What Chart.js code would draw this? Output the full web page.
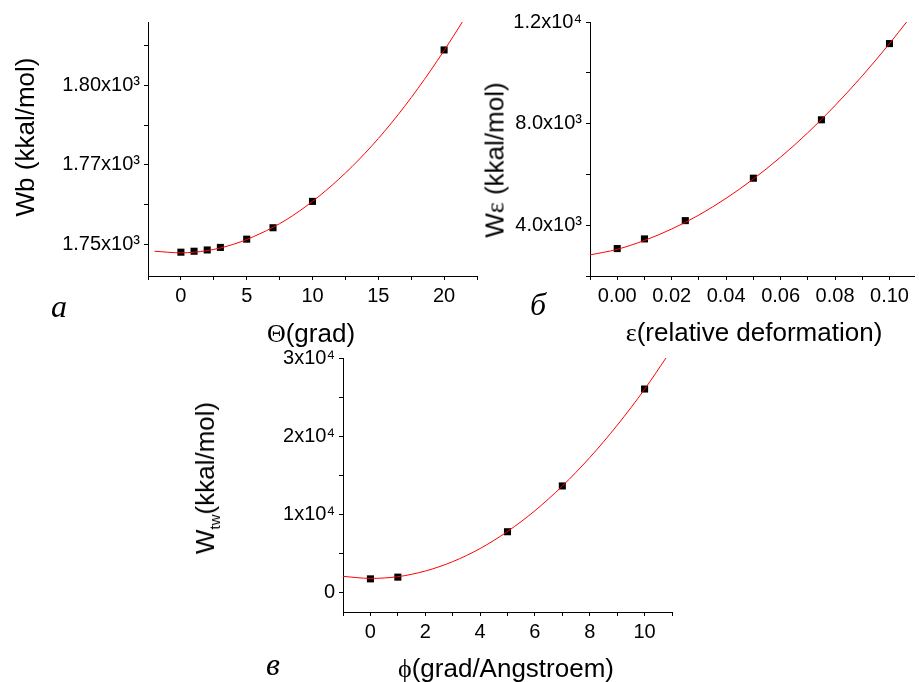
<!DOCTYPE html>
<html lang="en">

<head>
    <meta charset="UTF-8">
    <title>Energy vs deformation</title>
    <script src="https://cdn.jsdelivr.net/npm/chart.js"></script>
    <style>
        body { margin: 0; background: #fff; }
        #page { position: relative; width: 919px; height: 682px; overflow: hidden; }
        canvas { position: absolute; left: 0; top: 0; }
        .txt { position: absolute; font-family: 'Liberation Sans', Arial, sans-serif; font-size: 26px; color: #000; white-space: nowrap; transform: translate(-50%, -50%); line-height: 1; }
        .rot { transform: translate(-50%, -50%) rotate(-90deg); }
        .gr { font-family: 'Liberation Serif', 'Times New Roman', serif; }
        .let { position: absolute; font-family: 'Liberation Serif', 'Times New Roman', serif; font-style: italic; font-size: 32px; line-height: 1; transform: translate(-50%, -50%); }
        sub { font-size: 15px; vertical-align: -6px; }
    </style>
</head>

<body>
    <div id="page">
        <canvas id="ca" width="919" height="682"></canvas>
        <canvas id="cb" width="919" height="682"></canvas>
        <canvas id="cv" width="919" height="682"></canvas>

        <div class="txt rot" style="left:25px; top:137px;">Wb (kkal/mol)</div>
        <div class="txt" style="left:311px; top:333px;"><span class="gr">&Theta;</span>(grad)</div>
        <div class="let" style="left:59px; top:306px;">a</div>

        <div class="txt rot" style="left:495px; top:160px;">W<span class="gr">&epsilon;</span> (kkal/mol)</div>
        <div class="txt" style="left:754px; top:332px;"><span class="gr">&epsilon;</span>(relative deformation)</div>
        <div class="let" style="left:538px; top:304px;">б</div>

        <div class="txt rot" style="left:207px; top:478px;">W<sub>tw</sub>(kkal/mol)</div>
        <div class="txt" style="left:506px; top:668px;"><span class="gr">&#981;</span>(grad/Angstroem)</div>
        <div class="let" style="left:273px; top:664px;">в</div>
    </div>

    <script>
        // panel a : Wb vs theta
        var thetaX = [0, 1, 2, 3, 5, 7, 10, 20]
        var wbY = [1747.5, 1747.8, 1748.2, 1749.0, 1751.6, 1755.2, 1763.5, 1811.2]
        var wbFitX = [-2, 0, 2, 4, 6, 8, 10, 12, 14, 16, 18, 20, 21.4]
        var wbFitY = [1747.8, 1747.3, 1748.0, 1750.0, 1753.3, 1757.7, 1763.5, 1770.5, 1778.7, 1788.2, 1799.0, 1811.0, 1820.1]
        var thetaTicks = [-2.5, 0, 2.5, 5, 7.5, 10, 12.5, 15, 17.5, 20, 22.5]
        var thetaLabels = ['', '0', '', '5', '', '10', '', '15', '', '20', '']
        var wbTicks = [1750, 1762.5, 1775, 1787.5, 1800, 1812.5]
        var wbLabels = ['1.75x10³', '', '1.77x10³', '', '1.80x10³', '']

        // panel b : W eps vs relative deformation
        var epsX = [0, 0.01, 0.025, 0.05, 0.075, 0.1]
        var weY = [3080, 3460, 4180, 5850, 8150, 11150]
        var weFitX = [-0.01, 0, 0.01, 0.02, 0.03, 0.04, 0.05, 0.06, 0.07, 0.08, 0.09, 0.1, 0.1065]
        var weFitY = [2830, 3050, 3400, 3850, 4400, 5060, 5820, 6680, 7640, 8710, 9880, 11150, 12030]
        var epsTicks = [-0.01, 0, 0.01, 0.02, 0.03, 0.04, 0.05, 0.06, 0.07, 0.08, 0.09, 0.1]
        var epsLabels = ['', '0.00', '', '0.02', '', '0.04', '', '0.06', '', '0.08', '', '0.10']
        var weTicks = [2000, 4000, 6000, 8000, 10000, 12000]
        var weLabels = ['', '4.0x10³', '', '8.0x10³', '', '1.2x10⁴']

        // panel v : W tw vs phi
        var phiX = [0, 1, 5, 7, 10]
        var wtY = [1740, 1960, 7770, 13630, 26030]
        var wtFitX = [-1, 0, 1, 2, 3, 4, 5, 6, 7, 8, 9, 10, 10.78]
        var wtFitY = [2060, 1800, 2020, 2740, 3940, 5620, 7800, 10460, 13620, 17260, 21390, 26000, 30000]
        var phiTicks = [-1, 0, 1, 2, 3, 4, 5, 6, 7, 8, 9, 10, 11]
        var phiLabels = ['', '0', '', '2', '', '4', '', '6', '', '8', '', '10', '']
        var wtTicks = [0, 5000, 10000, 15000, 20000, 25000, 30000]
        var wtLabels = ['0', '', '1x10⁴', '', '2x10⁴', '', '3x10⁴']

        var fonte = { family: 'Liberation Sans', size: 20 }

        function pares(xs, ys) {
            return xs.map(function (x, i) { return { x: x, y: ys[i] } })
        }

        function eixo(lado, min, max, ticks, labels, tamanho) {
            return {
                type: 'linear',
                position: lado,
                min: min,
                max: max,
                afterBuildTicks: function (s) { s.ticks = ticks.map(function (v) { return { value: v } }) },
                afterFit: function (s) {
                    if (lado == 'left') s.width = tamanho
                    else s.height = tamanho
                },
                ticks: {
                    callback: function (v, i) { return labels[i] },
                    autoSkip: false, maxRotation: 0, padding: 4,
                    color: '#000', font: fonte
                },
                grid: { drawOnChartArea: false, drawTicks: true, tickLength: 4, color: '#000' },
                border: { display: true, color: '#000', width: 1 }
            }
        }

        function grafico(id, p) {
            new Chart(document.getElementById(id), {
                type: 'scatter',
                data: {
                    datasets: [{
                        data: pares(p.fitX, p.fitY),
                        showLine: true,
                        borderColor: '#ff0000',
                        borderWidth: 1,
                        pointRadius: 0,
                        cubicInterpolationMode: 'monotone'
                    }, {
                        data: pares(p.x, p.y),
                        pointStyle: 'rect',
                        pointRadius: 5,
                        backgroundColor: '#000',
                        borderColor: '#000',
                        borderWidth: 0
                    }]
                },
                options: {
                    responsive: false,
                    animation: false,
                    events: [],
                    layout: { padding: { left: 0, top: p.top, right: 919 - p.right, bottom: 682 - p.bottom - 40 } },
                    plugins: { legend: { display: false }, tooltip: { enabled: false } },
                    scales: {
                        x: eixo('bottom', p.xMin, p.xMax, p.xTicks, p.xLabels, 40),
                        y: eixo('left', p.yMin, p.yMax, p.yTicks, p.yLabels, p.left)
                    }
                }
            })
        }

        grafico('ca', {
            x: thetaX, y: wbY, fitX: wbFitX, fitY: wbFitY,
            xMin: -2.5, xMax: 22.5, xTicks: thetaTicks, xLabels: thetaLabels,
            yMin: 1740, yMax: 1820, yTicks: wbTicks, yLabels: wbLabels,
            left: 148, right: 477, top: 22, bottom: 276
        })
        grafico('cb', {
            x: epsX, y: weY, fitX: weFitX, fitY: weFitY,
            xMin: -0.01, xMax: 0.109, xTicks: epsTicks, xLabels: epsLabels,
            yMin: 2000, yMax: 12000, yTicks: weTicks, yLabels: weLabels,
            left: 590, right: 917, top: 22, bottom: 276
        })
        grafico('cv', {
            x: phiX, y: wtY, fitX: wtFitX, fitY: wtFitY,
            xMin: -1, xMax: 11, xTicks: phiTicks, xLabels: phiLabels,
            yMin: -2500, yMax: 30000, yTicks: wtTicks, yLabels: wtLabels,
            left: 343, right: 672, top: 358, bottom: 612
        })
    </script>
</body>

</html>
